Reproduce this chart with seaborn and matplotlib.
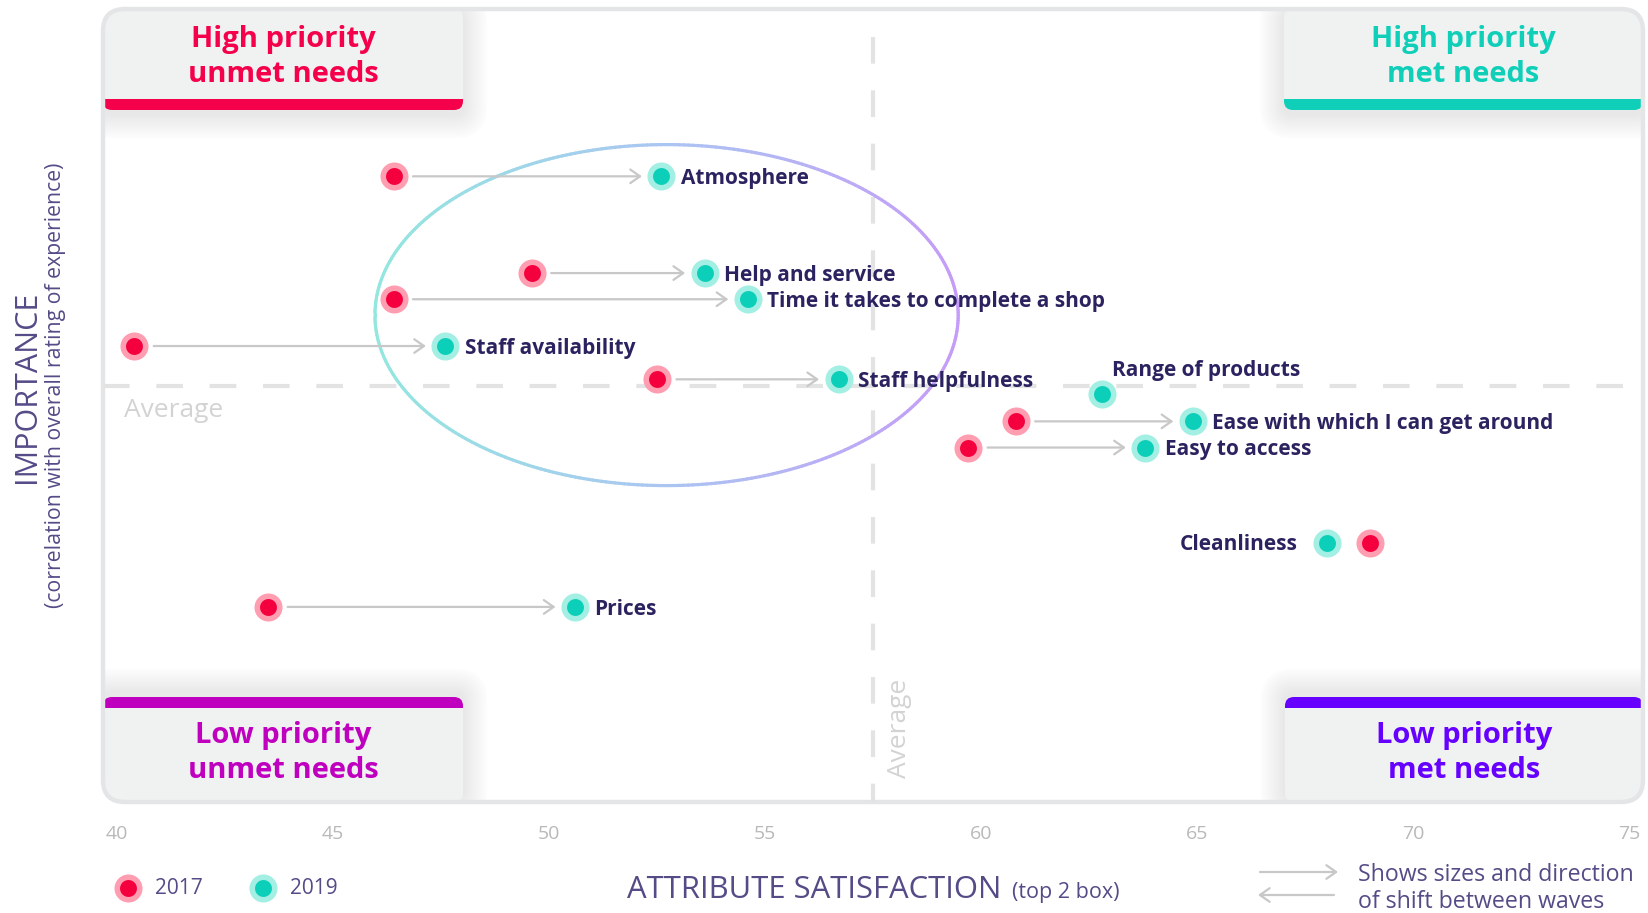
import numpy as np
import pandas as pd
import matplotlib.pyplot as plt
import seaborn as sns
from matplotlib.patches import FancyBboxPatch, Rectangle
from matplotlib.collections import LineCollection
from matplotlib.colors import LinearSegmentedColormap

# data
attributes = ["Atmosphere", "Help and service", "Time it takes to complete a shop",
              "Staff availability", "Staff helpfulness", "Range of products",
              "Ease with which I can get around", "Easy to access", "Cleanliness", "Prices"]
sat_2017 = [46.4, 49.6, 46.4, 40.4, 52.5, np.nan, 60.8, 59.7, 69.0, 43.5]
sat_2019 = [52.6, 53.6, 54.6, 47.6, 56.7, 62.8, 64.9, 63.8, 68.0, 50.6]
importance = [78.8, 66.6, 63.3, 57.4, 53.2, 51.3, 47.9, 44.6, 32.6, 24.5]
label_side = ["right", "right", "right", "right", "right", "above", "right", "right", "left", "right"]
x_ticks = [40, 45, 50, 55, 60, 65, 70, 75]
avg_satisfaction = 57.5
avg_importance = 52.4
waves = ["2017", "2019"]
quadrant_titles = [("High priority", "unmet needs"), ("High priority", "met needs"),
                   ("Low priority", "unmet needs"), ("Low priority", "met needs")]

RED, RED_RING = "#f5003f", "#ff9db1"
TEAL, TEAL_RING = "#0ccfb9", "#a3efe4"
NAVY = "#2a2360"
MUTED = "#554b87"
TICK_GREY = "#b9b9b9"
DASH = "#e3e3e3"
QUAD_COLORS = ["#f5014b", "#10cfb9", "#bf00bf", "#6600ff"]

W, H = 1648, 913
sns.set_theme(style="white")
plt.rcParams["font.family"] = ["Open Sans", "DejaVu Sans"]

fig = plt.figure(figsize=(W / 100, H / 100), dpi=100)

# background layer in pixel coordinates: frame + quadrant boxes
bg = fig.add_axes([0, 0, 1, 1], zorder=0)
bg.set_xlim(0, W)
bg.set_ylim(H, 0)
bg.axis("off")

FX, FY, FW, FH = 103, 9, 1540, 793
frame = FancyBboxPatch((FX, FY), FW, FH, boxstyle="round,pad=0,rounding_size=22",
                       fc="white", ec="none")
bg.add_patch(frame)

boxes = [(103, 9, 360, 101, 99), (1284, 9, 359, 101, 99),
         (103, 697, 360, 105, 697), (1285, 697, 358, 105, 697)]
for (bx, by, bw, bh, bar_y), col, (l1, l2), top in zip(
        boxes, QUAD_COLORS, quadrant_titles, [True, True, False, False]):
    # soft shadow
    for i in range(1, 12):
        sh = FancyBboxPatch((bx - i * 2.2, by - i * 2.2 + (4 if top else -4)), bw + i * 4.4, bh + i * 4.4,
                            boxstyle="round,pad=0,rounding_size=%d" % (10 + 2 * i), fc="#5d5385",
                            ec="none", alpha=0.013)
        bg.add_patch(sh)
        sh.set_clip_path(frame)
    box = FancyBboxPatch((bx, by), bw, bh, boxstyle="round,pad=0,rounding_size=9",
                         fc="#f0f1f1", ec="none")
    bg.add_patch(box)
    box.set_clip_path(frame)
    bar = Rectangle((bx, bar_y), bw, 11, fc=col, ec="none")
    bg.add_patch(bar)
    bar.set_clip_path(box)
    cx = bx + bw / 2
    b1 = by + 38 if top else by + 46
    bg.text(cx, b1, l1, color=col, fontsize=21, fontweight="bold", ha="center", va="baseline")
    bg.text(cx, b1 + 35.5, l2, color=col, fontsize=21, fontweight="bold", ha="center", va="baseline")

edge = FancyBboxPatch((FX, FY), FW, FH, boxstyle="round,pad=0,rounding_size=22",
                      fc="none", ec="#e4e5e7", lw=3.2)
bg.add_patch(edge)

# main data axes
ax = fig.add_axes([FX / W, 1 - (FY + FH) / H, FW / W, FH / H], zorder=1)
ax.patch.set_alpha(0)
ax.set_xlim(39.676, 75.32)
ax.set_ylim(-0.1, 99.9)
for s in ax.spines.values():
    s.set_visible(False)

ax.axhline(avg_importance, color=DASH, lw=3, ls=(0, (6.4, 6.4)), zorder=1)
ax.axvline(avg_satisfaction, color=DASH, lw=3, ls=(2, (6.4, 6.4)), zorder=1)
ax.annotate("Average", xy=(40.16, avg_importance), xytext=(0, -9), textcoords="offset points",
            color="#d3d3d3", fontsize=19, ha="left", va="top")
ax.annotate("Average", xy=(avg_satisfaction, 2.9), xytext=(19, 0), textcoords="offset points",
            color="#d3d3d3", fontsize=19, ha="center", va="bottom", rotation=90)

# gradient ellipse around the low-satisfaction cluster
t = np.linspace(0, 2 * np.pi, 400)
ex = 52.72 + 6.75 * np.cos(t)
ey = 61.3 + 21.5 * np.sin(t)
pts = np.column_stack([ex, ey]).reshape(-1, 1, 2)
segs = np.concatenate([pts[:-1], pts[1:]], axis=1)
cmap = LinearSegmentedColormap.from_list("ring", ["#93e7df", "#abc5f2", "#c59cf7"])
lc = LineCollection(segs, colors=cmap((ex[:-1] - ex.min()) / (ex.max() - ex.min())),
                    linewidths=2.3, zorder=2, capstyle="round")
ax.add_collection(lc)

df = pd.DataFrame({"attribute": attributes, "2017": sat_2017, "2019": sat_2019,
                   "importance": importance})
long = df.melt(id_vars=["attribute", "importance"], value_vars=waves,
               var_name="wave", value_name="satisfaction").dropna()

# shift arrows
for _, r in df.iterrows():
    if np.isnan(r["2017"]) or abs(r["2019"] - r["2017"]) < 1.2:
        continue
    ax.annotate("", xy=(r["2019"], r["importance"]), xytext=(r["2017"], r["importance"]),
                arrowprops=dict(arrowstyle="->,head_length=0.5,head_width=0.35",
                                color="#c8c8c8", lw=1.6, shrinkA=14, shrinkB=14,
                                mutation_scale=14), zorder=3)

for wave, fc, ring in [("2017", RED, RED_RING), ("2019", TEAL, TEAL_RING)]:
    sns.scatterplot(data=long[long["wave"] == wave], x="satisfaction", y="importance",
                    color=fc, edgecolor=ring, linewidth=4, s=262, ax=ax, label=wave, zorder=4)

for i, r in df.iterrows():
    side = label_side[i]
    if side == "right":
        off, ha = (14, -1.5), "left"
    elif side == "above":
        off, ha = (7, 17), "left"
    else:
        off, ha = (-21, -1.5), "right"
    ax.annotate(r["attribute"], xy=(r["2019"], r["importance"]), xytext=off,
                textcoords="offset points", ha=ha, va="center", color=NAVY,
                fontsize=15, fontweight="bold", zorder=5)

ax.set_xticks(x_ticks)
ax.set_yticks([])
ax.tick_params(axis="x", length=0, pad=16.5, labelsize=14, labelcolor=TICK_GREY)
ax.set_xlabel("")
ax.set_ylabel("")

leg = ax.legend(loc="center left", bbox_to_anchor=(113 / W, 1 - 888 / H),
                bbox_transform=fig.transFigure, ncol=2, frameon=False, fontsize=15,
                handlelength=1.4, handletextpad=0.6, columnspacing=2.2, borderpad=0,
                borderaxespad=0, labelcolor=MUTED)

# axis titles
fig.text(627 / W, 1 - 898 / H, "ATTRIBUTE SATISFACTION", color=MUTED, fontsize=22.3,
         ha="left", va="baseline")
fig.text(1012 / W, 1 - 898 / H, "(top 2 box)", color=MUTED, fontsize=15.5,
         ha="left", va="baseline")
fig.text(27 / W, 1 - 387 / H, "IMPORTANCE", color=MUTED, fontsize=22, rotation=90,
         ha="center", va="center")
fig.text(56 / W, 1 - 385 / H, "(correlation with overall rating of experience)", color=MUTED,
         fontsize=15.3, rotation=90, ha="center", va="center")

# shift legend
bg.annotate("", xy=(1338, 872), xytext=(1260, 872),
            arrowprops=dict(arrowstyle="->,head_length=0.5,head_width=0.35", color="#c8c8c8",
                            lw=1.6, shrinkA=0, shrinkB=0, mutation_scale=14))
bg.annotate("", xy=(1258, 895), xytext=(1334, 895),
            arrowprops=dict(arrowstyle="->,head_length=0.5,head_width=0.35", color="#c8c8c8",
                            lw=1.6, shrinkA=0, shrinkB=0, mutation_scale=14))
bg.text(1358, 881, "Shows sizes and direction", color=MUTED, fontsize=16.7, ha="left", va="baseline")
bg.text(1358, 908, "of shift between waves", color=MUTED, fontsize=16.7, ha="left", va="baseline")

fig.savefig("out.png", dpi=100)
